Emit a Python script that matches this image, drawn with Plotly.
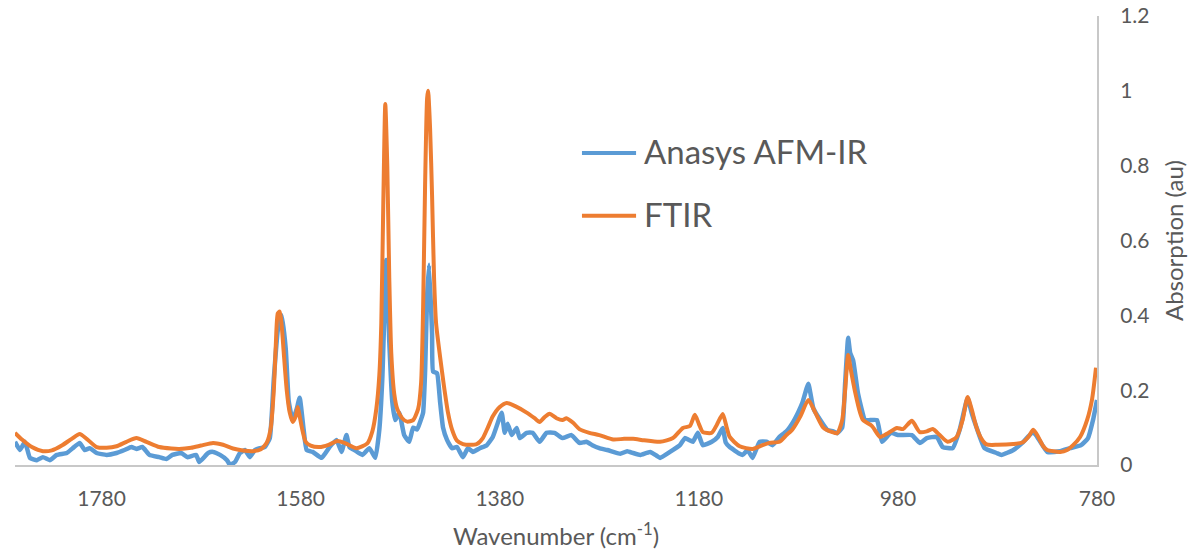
import plotly.graph_objects as go

# FTIR reference spectrum (smooth)
ftir_wn = [1867, 1860, 1850, 1839, 1830, 1820, 1810, 1802, 1795, 1785, 1775, 1765, 1755, 1745,
           1735, 1722, 1710, 1702, 1690, 1680, 1668, 1658, 1648, 1638, 1628, 1620, 1614, 1610,
           1607, 1605, 1603, 1601, 1599, 1597, 1594, 1591, 1588, 1585, 1583, 1581, 1578, 1575,
           1570, 1561, 1552, 1543, 1535, 1524, 1513, 1508, 1504, 1501, 1499, 1497, 1495, 1493,
           1491, 1489, 1486, 1483, 1478, 1473, 1467, 1462, 1459, 1457, 1455, 1453, 1452, 1450,
           1448, 1446, 1444, 1440, 1436, 1432, 1428, 1423, 1417, 1410, 1403, 1397, 1392, 1387,
           1380, 1373, 1365, 1353, 1345, 1340, 1335, 1330, 1323, 1317, 1313, 1306, 1300, 1290,
           1280, 1266, 1255, 1246, 1235, 1219, 1206, 1196, 1189, 1184, 1180, 1176, 1167, 1162,
           1156, 1152, 1149, 1139, 1126, 1117, 1109, 1099, 1092, 1086, 1078, 1070, 1063, 1055,
           1046, 1041, 1036, 1033, 1030, 1027, 1023, 1018, 1015, 1006, 998, 990, 981, 975,
           966, 958, 951, 945, 938, 930, 921, 915, 910, 906, 901, 896, 891, 880, 864, 855,
           849, 844, 839, 834, 830, 817, 810, 804, 797, 790, 785, 781]
ftir_abs = [0.086, 0.068, 0.048, 0.037, 0.039, 0.052, 0.070, 0.083, 0.070, 0.048, 0.046, 0.050,
            0.062, 0.072, 0.062, 0.048, 0.044, 0.043, 0.046, 0.052, 0.059, 0.054, 0.044, 0.039,
            0.037, 0.042, 0.060, 0.100, 0.200, 0.320, 0.405, 0.410, 0.370, 0.300, 0.200, 0.140,
            0.115, 0.130, 0.155, 0.130, 0.090, 0.062, 0.052, 0.048, 0.054, 0.064, 0.058, 0.045,
            0.058, 0.090, 0.150, 0.240, 0.380, 0.700, 0.965, 0.800, 0.500, 0.300, 0.190, 0.150,
            0.125, 0.116, 0.120, 0.150, 0.220, 0.420, 0.750, 0.980, 1.000, 0.900, 0.720, 0.500,
            0.380, 0.290, 0.210, 0.140, 0.095, 0.065, 0.056, 0.054, 0.056, 0.072, 0.100, 0.130,
            0.155, 0.166, 0.158, 0.140, 0.125, 0.115, 0.128, 0.137, 0.125, 0.120, 0.125, 0.112,
            0.096, 0.086, 0.080, 0.068, 0.070, 0.070, 0.066, 0.062, 0.072, 0.099, 0.104, 0.134,
            0.110, 0.088, 0.086, 0.107, 0.136, 0.100, 0.075, 0.050, 0.043, 0.052, 0.059, 0.062,
            0.080, 0.095, 0.130, 0.174, 0.140, 0.100, 0.088, 0.085, 0.120, 0.200, 0.294, 0.250,
            0.195, 0.140, 0.120, 0.104, 0.075, 0.085, 0.099, 0.096, 0.118, 0.088, 0.090, 0.096,
            0.080, 0.062, 0.075, 0.120, 0.182, 0.150, 0.100, 0.070, 0.055, 0.054, 0.056, 0.060,
            0.075, 0.094, 0.075, 0.050, 0.040, 0.035, 0.040, 0.053, 0.075, 0.120, 0.175, 0.260]

# AFM-IR spectrum (noisier)
afm_wn = [1867, 1862, 1857, 1852, 1845, 1839, 1832, 1825, 1815, 1809, 1802, 1797, 1792, 1785,
          1775, 1765, 1757, 1750, 1745, 1739, 1732, 1722, 1715, 1709, 1700, 1694, 1685, 1682,
          1673, 1668, 1661, 1654, 1651, 1646, 1641, 1636, 1631, 1626, 1621, 1616, 1611, 1607,
          1603, 1599, 1595, 1592, 1588, 1584, 1581, 1577, 1574, 1568, 1559, 1551, 1544, 1539,
          1534, 1531, 1526, 1518, 1511, 1505, 1501, 1498, 1494, 1491, 1488, 1485, 1481, 1476,
          1471, 1467, 1463, 1460, 1457, 1455, 1453, 1451, 1448, 1447, 1443, 1440, 1437, 1433,
          1428, 1423, 1417, 1412, 1407, 1400, 1393, 1387, 1380, 1378, 1375, 1372, 1368, 1363,
          1360, 1353, 1347, 1340, 1333, 1325, 1317, 1308, 1300, 1293, 1287, 1280, 1272, 1266,
          1259, 1252, 1246, 1239, 1229, 1222, 1219, 1209, 1199, 1194, 1190, 1186, 1181, 1176,
          1167, 1161, 1156, 1153, 1149, 1139, 1136, 1131, 1126, 1119, 1112, 1106, 1099, 1092,
          1086, 1080, 1076, 1070, 1065, 1058, 1051, 1045, 1041, 1036, 1033, 1030, 1028, 1025,
          1020, 1013, 1008, 1001, 996, 987, 980, 966, 958, 951, 941, 935, 925, 918, 910, 906,
          901, 893, 881, 876, 864, 855, 844, 830, 817, 807, 796, 789, 784, 780]
afm_abs = [0.062, 0.040, 0.062, 0.019, 0.013, 0.021, 0.013, 0.027, 0.032, 0.045, 0.059, 0.040,
           0.045, 0.032, 0.027, 0.032, 0.040, 0.048, 0.043, 0.048, 0.027, 0.021, 0.016, 0.027,
           0.032, 0.021, 0.027, 0.008, 0.032, 0.035, 0.027, 0.013, 0.000, 0.008, 0.032, 0.040,
           0.021, 0.040, 0.045, 0.048, 0.072, 0.230, 0.360, 0.400, 0.310, 0.170, 0.120, 0.150,
           0.180, 0.094, 0.040, 0.035, 0.019, 0.048, 0.067, 0.035, 0.080, 0.048, 0.040, 0.027,
           0.045, 0.019, 0.094, 0.230, 0.548, 0.330, 0.170, 0.120, 0.140, 0.080, 0.062, 0.100,
           0.095, 0.115, 0.140, 0.250, 0.450, 0.535, 0.350, 0.250, 0.245, 0.170, 0.100, 0.067,
           0.045, 0.048, 0.021, 0.045, 0.035, 0.045, 0.053, 0.075, 0.128, 0.140, 0.086, 0.110,
           0.080, 0.099, 0.072, 0.086, 0.086, 0.062, 0.086, 0.086, 0.072, 0.080, 0.059, 0.062,
           0.053, 0.045, 0.040, 0.035, 0.030, 0.037, 0.032, 0.027, 0.035, 0.024, 0.019, 0.035,
           0.053, 0.072, 0.067, 0.062, 0.086, 0.053, 0.062, 0.075, 0.099, 0.060, 0.048, 0.030,
           0.027, 0.040, 0.019, 0.062, 0.062, 0.053, 0.075, 0.090, 0.112, 0.142, 0.166, 0.217,
           0.152, 0.120, 0.094, 0.090, 0.085, 0.100, 0.220, 0.340, 0.300, 0.280, 0.190, 0.120,
           0.120, 0.120, 0.062, 0.086, 0.080, 0.080, 0.059, 0.072, 0.075, 0.048, 0.045, 0.094,
           0.179, 0.140, 0.100, 0.045, 0.032, 0.027, 0.040, 0.059, 0.088, 0.035, 0.037, 0.045,
           0.053, 0.072, 0.120, 0.174]

x_ticks = [1780, 1580, 1380, 1180, 980, 780]
y_ticks = [0, 0.2, 0.4, 0.6, 0.8, 1, 1.2]
y_tick_labels = ["0", "0.2", "0.4", "0.6", "0.8", "1", "1.2"]

series_names = ["Anasys AFM-IR", "FTIR"]
series_colors = ["#5B9BD5", "#ED7D31"]

FONT = "Lato"
TEXT = "#595959"
AXIS = "#C8C8C8"

fig = go.Figure()
fig.add_trace(go.Scatter(x=afm_wn, y=afm_abs, mode="lines", name=series_names[0],
                         line=dict(color=series_colors[0], width=4.5, shape="spline", smoothing=0.4),
                         showlegend=False))
fig.add_trace(go.Scatter(x=ftir_wn, y=ftir_abs, mode="lines", name=series_names[1],
                         line=dict(color=series_colors[1], width=4, shape="spline", smoothing=0.6),
                         showlegend=False))

# legend drawn inside the plot area
legend_rows = [0.695, 0.555]
for name, color, yy in zip(series_names, series_colors, legend_rows):
    fig.add_shape(type="line", xref="paper", yref="paper", x0=0.524, x1=0.574, y0=yy, y1=yy,
                  line=dict(color=color, width=4))
    fig.add_annotation(xref="paper", yref="paper", x=0.5795, y=yy + 0.004, text=name,
                       showarrow=False, xanchor="left", yanchor="middle",
                       font=dict(family=FONT, size=33, color=TEXT))

fig.update_layout(
    width=1188, height=550,
    margin=dict(l=15, r=91, t=16, b=85),
    paper_bgcolor="white", plot_bgcolor="white",
    font=dict(family=FONT, color=TEXT, size=21),
    xaxis=dict(range=[1867, 780], tickvals=x_ticks, showgrid=False, zeroline=False,
               showline=True, linecolor=AXIS, linewidth=2, ticks="", automargin=False,
               ticklabelstandoff=14, tickfont=dict(size=21, color=TEXT),
               title=dict(text="Wavenumber (cm<sup>-1</sup>)", font=dict(size=24, color=TEXT),
                          standoff=20)),
    yaxis=dict(range=[0, 1.2], tickvals=y_ticks, ticktext=y_tick_labels, side="right",
               showgrid=False, zeroline=False, showline=True, linecolor=AXIS, linewidth=2,
               ticks="", automargin=False, ticklabelstandoff=17,
               tickfont=dict(size=21, color=TEXT),
               title=dict(text="Absorption (au)", font=dict(size=24, color=TEXT), standoff=27)),
)

fig.write_html("out.html")
